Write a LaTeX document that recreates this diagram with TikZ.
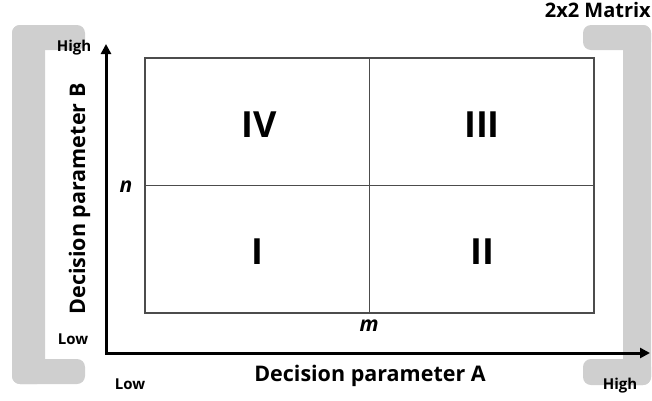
\documentclass[tikz,border=0pt]{standalone}
\usepackage{fontspec}
\setmainfont{Open Sans}
\usetikzlibrary{arrows.meta}
\begin{document}
\begin{tikzpicture}[x=1pt,y=-1pt,
  bracket/.style={fill=black!19, draw=none, rounded corners=8pt},
  gridline/.style={draw=black!70, line width=1.1pt},
  axis/.style={line width=3pt, line join=miter, {Triangle[length=10pt,width=10pt]}-{Triangle[length=10pt,width=10pt]}},
  quad/.style={font=\fontsize{36}{40}\selectfont\bfseries, inner sep=0pt, anchor=base},
  small/.style={font=\fontsize{15}{17}\selectfont\bfseries, inner sep=0pt, anchor=base},
  axlabel/.style={font=\fontsize{21.5}{26}\selectfont\bfseries, inner sep=0pt, anchor=base},
  cutlabel/.style={font=\fontsize{21}{24}\selectfont\bfseries\itshape, inner sep=0pt, anchor=base}
]
\useasboundingbox (0,0) rectangle (652,400);
% brackets
\fill[bracket] (12,25) rectangle (45,384);
\fill[bracket] (12,25) rectangle (85,50);
\fill[bracket] (12,359) rectangle (85,384);
\fill[bracket] (623,25) rectangle (651,385);
\fill[bracket] (583,25) rectangle (651,50);
\fill[bracket] (583,359) rectangle (651,385);
% matrix
\node[gridline, draw, minimum width=449pt, minimum height=255pt, inner sep=0pt] (box) at (369.5,185.5) {};
\draw[gridline] (box.north) -- (box.south);
\draw[gridline] (box.west) -- (box.east);
% axes
\coordinate (O) at (106,353);
\coordinate (ytip) at (106,44);
\coordinate (xtip) at (650,353);
\draw[axis] (ytip) -- (O) -- (xtip);
% quadrant labels
\node[quad] (q4) at (259,137) {IV};
\node[quad] (q3) at (482,137) {III};
\node[quad] (q1) at (257,264) {I};
\node[quad] (q2) at (482,264) {II};
% markers
\node[cutlabel] (n) at (126,192) {n};
\node[cutlabel] (m) at (369,331) {m};
% axis labels
\node[axlabel] (la) at (370,381) {Decision parameter A};
\node[axlabel, rotate=90] (lb) at (85,199) {Decision parameter B};
\node[small] (yhigh) at (74,51) {High};
\node[small] (ylow) at (73,344) {Low};
\node[small] (xlow) at (130,389) {Low};
\node[small] (xhigh) at (620,389) {High};
\node[font=\fontsize{20}{22}\selectfont\bfseries, inner sep=0pt, anchor=base east] (title) at (651,17) {2x2 Matrix};
\end{tikzpicture}
\end{document}
